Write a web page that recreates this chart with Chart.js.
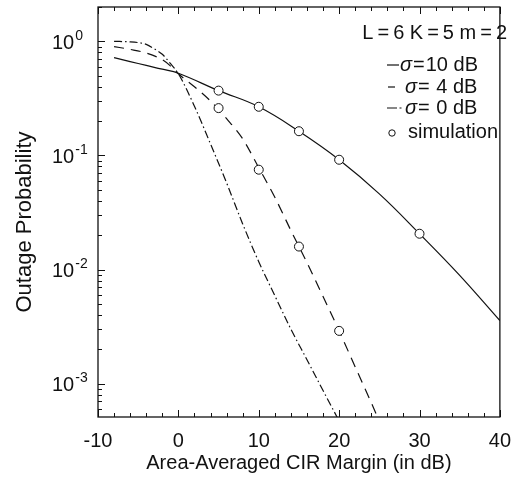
<!DOCTYPE html>
<html>
<head>
<meta charset="utf-8">
<script src="https://cdn.jsdelivr.net/npm/chart.js@4.4.1/dist/chart.umd.min.js"></script>
<style>
    html, body { margin: 0; padding: 0; background: #fff; }
    #div_c1 { width: 523px; height: 489px; }
</style>
</head>
<body>
<div id="div_c1"><canvas id="Chart1" width="523" height="489"></canvas></div>
<script>
// axis ticks / labels
var xTicks = [-10, 0, 10, 20, 30, 40];
var yTickValues = [1, 0.1, 0.01, 0.001];
var yTickExps = ['0', '-1', '-2', '-3'];

// sigma = 10 dB (solid)
var xSigma10 = [-8, -6, -4, -2, 0, 5, 10, 15, 20, 25, 30, 35, 40];
var ySigma10 = [0.72, 0.665, 0.615, 0.57, 0.525, 0.37, 0.267, 0.163, 0.0917, 0.046, 0.0206, 0.0089, 0.00357];

// sigma = 4 dB (dashed)
var xSigma4 = [-8, -6, -4, -2, -1, 0, 2, 4, 6, 8, 10, 12, 14, 16, 18, 20, 22, 24, 26];
var ySigma4 = [0.9, 0.85, 0.79, 0.69, 0.61, 0.52, 0.40, 0.30, 0.21, 0.14, 0.078, 0.043, 0.022, 0.0115, 0.0058, 0.0029, 0.0014, 0.00068, 0.00032];

// sigma = 0 dB (dash-dot)
var xSigma0 = [-8, -6, -5, -4, -3, -2, -1, 0, 2, 4, 6, 8, 10, 12, 14, 16, 18, 20];
var ySigma0 = [1.0, 0.99, 0.975, 0.94, 0.86, 0.77, 0.64, 0.52, 0.27, 0.126, 0.0575, 0.0251, 0.0117, 0.0059, 0.0030, 0.00162, 0.00087, 0.00047];

// simulation points
var xSim10 = [5, 10, 15, 20, 30];
var ySim10 = [0.37, 0.267, 0.163, 0.0917, 0.0206];
var xSim4 = [5, 10, 15, 20];
var ySim4 = [0.26, 0.075, 0.0159, 0.0029];

// text
var paramText = 'L\u2009=\u20096 K\u2009=\u20095 m\u2009=\u20092';
var legendSigmas = ['10', ' 4', ' 0'];
var legendSimText = 'simulation';
var xTitle = 'Area-Averaged CIR Margin (in dB)';
var yTitle = 'Outage Probability';

var FONT = '"Liberation Sans", Arial, Helvetica, sans-serif';
var INK = '#111';
var dashStyles = [[], [10, 7], [8, 3, 1.5, 3]];

function toXY(xs, ys) {
    return xs.map(function (x, i) { return { x: x, y: ys[i] }; });
}

var axesPlugin = {
    id: 'axesPlugin',
    afterDraw: function (chart) {
        var ctx = chart.ctx;
        var ca = chart.chartArea;
        var xs = chart.scales.x, ys = chart.scales.y;
        ctx.save();
        ctx.strokeStyle = INK;
        ctx.fillStyle = INK;
        ctx.lineWidth = 1.3;
        ctx.setLineDash([]);
        ctx.strokeRect(ca.left, ca.top, ca.right - ca.left, ca.bottom - ca.top);

        // x ticks, inward, bottom and top
        ctx.lineWidth = 1;
        ctx.beginPath();
        for (var v = -10; v <= 40; v += 2) {
            var px = Math.round(xs.getPixelForValue(v)) + 0.5;
            var len = (v % 10 === 0) ? 7 : 4;
            ctx.moveTo(px, ca.bottom); ctx.lineTo(px, ca.bottom - len);
            ctx.moveTo(px, ca.top); ctx.lineTo(px, ca.top + len);
        }
        // y ticks, inward, left
        for (var k = -4; k <= 0; k++) {
            for (var m = 1; m <= 9; m++) {
                var val = m * Math.pow(10, k);
                if (val < ys.min || val > ys.max) continue;
                var py = Math.round(ys.getPixelForValue(val)) + 0.5;
                var l = (m === 1) ? 7 : 4;
                ctx.moveTo(ca.left, py); ctx.lineTo(ca.left + l, py);
            }
        }
        ctx.stroke();

        // y tick labels 10^k
        ctx.textBaseline = 'middle';
        ctx.textAlign = 'left';
        for (var i = 0; i < yTickValues.length; i++) {
            var y = ys.getPixelForValue(yTickValues[i]);
            ctx.font = '20px ' + FONT;
            ctx.fillText('10', 52, y + 2);
            var w = ctx.measureText('10').width;
            ctx.font = '14px ' + FONT;
            ctx.fillText(yTickExps[i], 52 + w + 1, y - 5);
        }

        // y axis title
        ctx.save();
        ctx.translate(25, 222);
        ctx.rotate(-Math.PI / 2);
        ctx.textAlign = 'center';
        ctx.font = '22px ' + FONT;
        ctx.fillText(yTitle, 0, 0);
        ctx.restore();

        // parameter text
        ctx.font = '20px ' + FONT;
        ctx.textAlign = 'right';
        ctx.fillText(paramText, 507, 33);

        // legend rows
        var rows = [65, 87, 108];
        var samples = [[387, 399], [388, 395], [387, 397]];
        var sigX = [400, 405, 405];
        ctx.textAlign = 'left';
        for (var r = 0; r < rows.length; r++) {
            var ry = rows[r];
            ctx.lineWidth = 1.2;
            ctx.beginPath();
            ctx.moveTo(samples[r][0], ry); ctx.lineTo(samples[r][1], ry);
            if (r === 2) { ctx.moveTo(399.5, ry); ctx.lineTo(401.5, ry); }
            ctx.stroke();
            var cx = sigX[r];
            ctx.font = 'italic 20px ' + FONT;
            ctx.fillText('\u03c3', cx, ry);
            cx += ctx.measureText('\u03c3').width + 1;
            ctx.font = '20px ' + FONT;
            ctx.fillText('=', cx, ry);
            cx += ctx.measureText('=').width + 1;
            ctx.fillText(legendSigmas[r] + ' dB', cx, ry);
        }
        ctx.beginPath();
        ctx.lineWidth = 1;
        ctx.arc(392, 133, 3.2, 0, Math.PI * 2);
        ctx.stroke();
        ctx.fillText(legendSimText, 408, 132);
        ctx.restore();
    }
};

var ctx1 = document.getElementById('Chart1');
var crt1 = new Chart(ctx1, {
    type: 'scatter',
    data: {
        datasets: [{
            label: 'sim10',
            data: toXY(xSim10, ySim10),
            showLine: false,
            pointRadius: 4.5,
            pointBackgroundColor: '#fff',
            pointBorderColor: INK,
            pointBorderWidth: 1
        }, {
            label: 'sim4',
            data: toXY(xSim4, ySim4),
            showLine: false,
            pointRadius: 4.5,
            pointBackgroundColor: '#fff',
            pointBorderColor: INK,
            pointBorderWidth: 1
        }, {
            label: 'sigma10',
            data: toXY(xSigma10, ySigma10),
            showLine: true,
            pointRadius: 0,
            borderColor: INK,
            borderWidth: 1.2,
            tension: 0.4
        }, {
            label: 'sigma4',
            data: toXY(xSigma4, ySigma4),
            showLine: true,
            pointRadius: 0,
            borderColor: INK,
            borderWidth: 1.2,
            borderDash: dashStyles[1],
            cubicInterpolationMode: 'monotone'
        }, {
            label: 'sigma0',
            data: toXY(xSigma0, ySigma0),
            showLine: true,
            pointRadius: 0,
            borderColor: INK,
            borderWidth: 1.2,
            borderDash: dashStyles[2],
            cubicInterpolationMode: 'monotone'
        }]
    },
    options: {
        responsive: false,
        animation: false,
        layout: { padding: { top: 7, right: 16, left: 0, bottom: 0 } },
        plugins: {
            legend: { display: false },
            tooltip: { enabled: false }
        },
        scales: {
            x: {
                type: 'linear',
                min: -10,
                max: 40,
                afterBuildTicks: function (s) {
                    s.ticks = xTicks.map(function (v) { return { value: v }; });
                },
                afterFit: function (s) { s.height = 72; },
                grid: { display: false, drawTicks: false },
                border: { display: false },
                ticks: {
                    color: INK,
                    font: { family: FONT, size: 20 },
                    padding: 12,
                    maxRotation: 0,
                    callback: function (value) { return value; }
                },
                title: {
                    display: true,
                    text: xTitle,
                    color: INK,
                    font: { family: FONT, size: 20 },
                    padding: { top: 0, bottom: 14 }
                }
            },
            y: {
                type: 'logarithmic',
                min: 0.00051,
                max: 2,
                afterFit: function (s) { s.width = 98; },
                grid: { display: false, drawTicks: false },
                border: { display: false },
                ticks: { display: false },
                title: { display: false }
            }
        }
    },
    plugins: [axesPlugin]
});
</script>
</body>
</html>
